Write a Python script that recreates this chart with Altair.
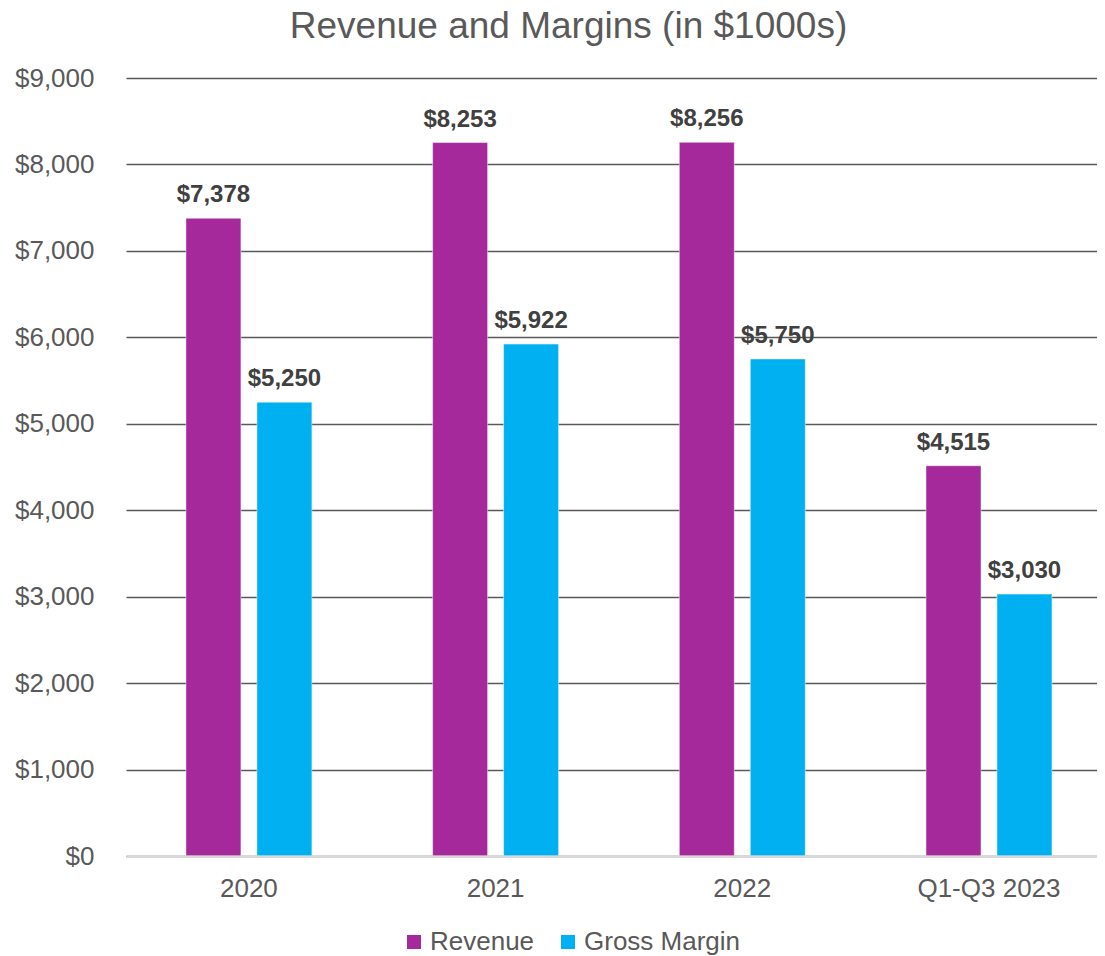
import altair as alt
import pandas as pd

categories = ["2020", "2021", "2022", "Q1-Q3 2023"]
series = ["Revenue", "Gross Margin"]
revenue = [7378, 8253, 8256, 4515]
gross_margin = [5250, 5922, 5750, 3030]
y_ticks = [0, 1000, 2000, 3000, 4000, 5000, 6000, 7000, 8000, 9000]
colors = ["#A5299A", "#00B0F0"]

rows = []
for i, c in enumerate(categories):
    rows.append({"period": c, "series": "Revenue", "value": revenue[i]})
    rows.append({"period": c, "series": "Gross Margin", "value": gross_margin[i]})
df = pd.DataFrame(rows)

FONT = "Liberation Sans"

x_enc = alt.X(
    "period:N",
    sort=categories,
    scale=alt.Scale(paddingInner=0.4893, paddingOuter=0.2127, align=0.571),
    axis=alt.Axis(
        title=None, labelAngle=0, ticks=False, tickSize=0, labelPadding=19,
        labelFontSize=26, labelColor="#595959", labelFont=FONT,
        domainColor="#D9D9D9", domainWidth=2, grid=False, zindex=1,
    ),
)
xo_enc = alt.XOffset(
    "series:N", sort=series,
    scale=alt.Scale(paddingInner=0.225, paddingOuter=0),
)
y_enc = alt.Y(
    "value:Q",
    scale=alt.Scale(domain=[0, 9000], nice=False),
    axis=alt.Axis(
        title=None, values=y_ticks, format="$,.0f", ticks=False, tickSize=0,
        labelPadding=32, labelFontSize=26, labelColor="#595959", labelFont=FONT,
        domain=False, grid=True, gridColor="#595959", gridWidth=1.5,
    ),
)

bars = alt.Chart(df).mark_bar(stroke="white", strokeWidth=0.8, strokeOpacity=0.6).encode(
    x=x_enc,
    xOffset=xo_enc,
    y=y_enc,
    color=alt.Color(
        "series:N",
        sort=series,
        scale=alt.Scale(domain=series, range=colors),
        legend=alt.Legend(
            title=None, orient="none", direction="horizontal",
            legendX=275, legendY=851, symbolType="square", symbolSize=196,
            symbolStrokeWidth=0, labelFontSize=26, labelColor="#595959",
            labelFont=FONT, labelOffset=3, columnPadding=20, padding=0,
        ),
    ),
)

labels = alt.Chart(df).mark_text(
    baseline="alphabetic", dy=-16, fontSize=24, fontWeight="bold",
    color="#404040", font=FONT,
).encode(
    x=x_enc,
    xOffset=xo_enc,
    y=y_enc,
    text=alt.Text("value:Q", format="$,.0f"),
)

chart = alt.layer(bars, labels).properties(
    width=971,
    height=778,
    padding={"left": 6, "top": 0, "right": 0, "bottom": 0},
    title=alt.TitleParams(
        "Revenue and Margins (in $1000s)", fontSize=37, fontWeight="normal",
        color="#595959", font=FONT, anchor="middle", dx=-43, offset=19,
    ),
).configure_view(strokeWidth=0)

chart.save("out.html", embed_options={"renderer": "svg", "actions": False})
